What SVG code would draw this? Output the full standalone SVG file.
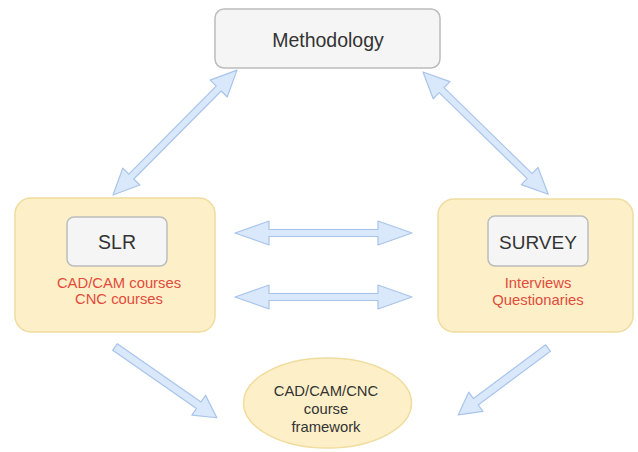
<svg xmlns="http://www.w3.org/2000/svg" width="638" height="452" viewBox="0 0 638 452">
  <style>
    .box { fill: #f5f5f5; stroke: #bcbcbc; stroke-width: 1.5; }
    .cont { fill: #fdf0c9; stroke: #f0dc9e; stroke-width: 1.5; }
    .arrow { fill: #dae8fc; stroke: #a9c4eb; stroke-width: 1.2; stroke-linejoin: round; }
    .t { font-family: "Liberation Sans", Arial, sans-serif; fill: #333333; text-anchor: middle; }
    .red { font-family: "Liberation Sans", Arial, sans-serif; fill: #e14b3b; text-anchor: middle; font-size: 14.8px; }
    .ell { font-family: "Liberation Sans", Arial, sans-serif; fill: #333333; text-anchor: middle; font-size: 14.8px; }
  </style>
  <rect width="638" height="452" fill="#ffffff"/>

  <g id="connectors">
    <polygon class="arrow" transform="translate(113,195) rotate(-45.2)" points="0,0 26,-12 26,-3.5 150,-3.5 150,-12 176,0 150,12 150,3.5 26,3.5 26,12"/>
    <polygon class="arrow" transform="translate(423,72) rotate(44.3)" points="0,0 26,-12 26,-3.5 149,-3.5 149,-12 175,0 149,12 149,3.5 26,3.5 26,12"/>
    <polygon class="arrow" transform="translate(235,233)" points="0,0 34,-12 34,-3.5 143,-3.5 143,-12 177,0 143,12 143,3.5 34,3.5 34,12"/>
    <polygon class="arrow" transform="translate(235,297)" points="0,0 34,-12 34,-3.5 143,-3.5 143,-12 177,0 143,12 143,3.5 34,3.5 34,12"/>
    <polygon class="arrow" transform="translate(115,347) rotate(34.8)" points="0,-4 102,-4 102,-12 124,0 102,12 102,4 0,4"/>
    <polygon class="arrow" transform="translate(548,348) rotate(143.3)" points="0,-4 90,-4 90,-12 112,0 90,12 90,4 0,4"/>
  </g>

  <g id="methodology">
    <rect class="box" x="215" y="9" width="225" height="59" rx="9"/>
    <text class="t" x="328" y="47" font-size="19.5">Methodology</text>
  </g>

  <g id="slr-group">
    <rect class="cont" x="15" y="198" width="200" height="134" rx="16"/>
    <g id="slr">
      <rect class="box" x="67" y="217" width="100" height="49" rx="7"/>
      <text class="t" x="117" y="248.5" font-size="19.5">SLR</text>
    </g>
    <text class="red" x="119" y="288">CAD/CAM courses</text>
    <text class="red" x="119" y="304">CNC courses</text>
  </g>

  <g id="survey-group">
    <rect class="cont" x="438" y="199" width="195" height="133" rx="16"/>
    <g id="survey">
      <rect class="box" x="488" y="216" width="100" height="50" rx="7"/>
      <text class="t" x="538" y="248.5" font-size="19">SURVEY</text>
    </g>
    <text class="red" x="538" y="288">Interviews</text>
    <text class="red" x="538" y="305">Questionaries</text>
  </g>

  <g id="framework">
    <ellipse cx="327.5" cy="403" rx="84" ry="45" fill="#fdf0c9" stroke="#f0dc9e" stroke-width="1.5"/>
    <text class="ell" x="326" y="396">CAD/CAM/CNC</text>
    <text class="ell" x="326" y="414">course</text>
    <text class="ell" x="326" y="432">framework</text>
  </g>
</svg>
